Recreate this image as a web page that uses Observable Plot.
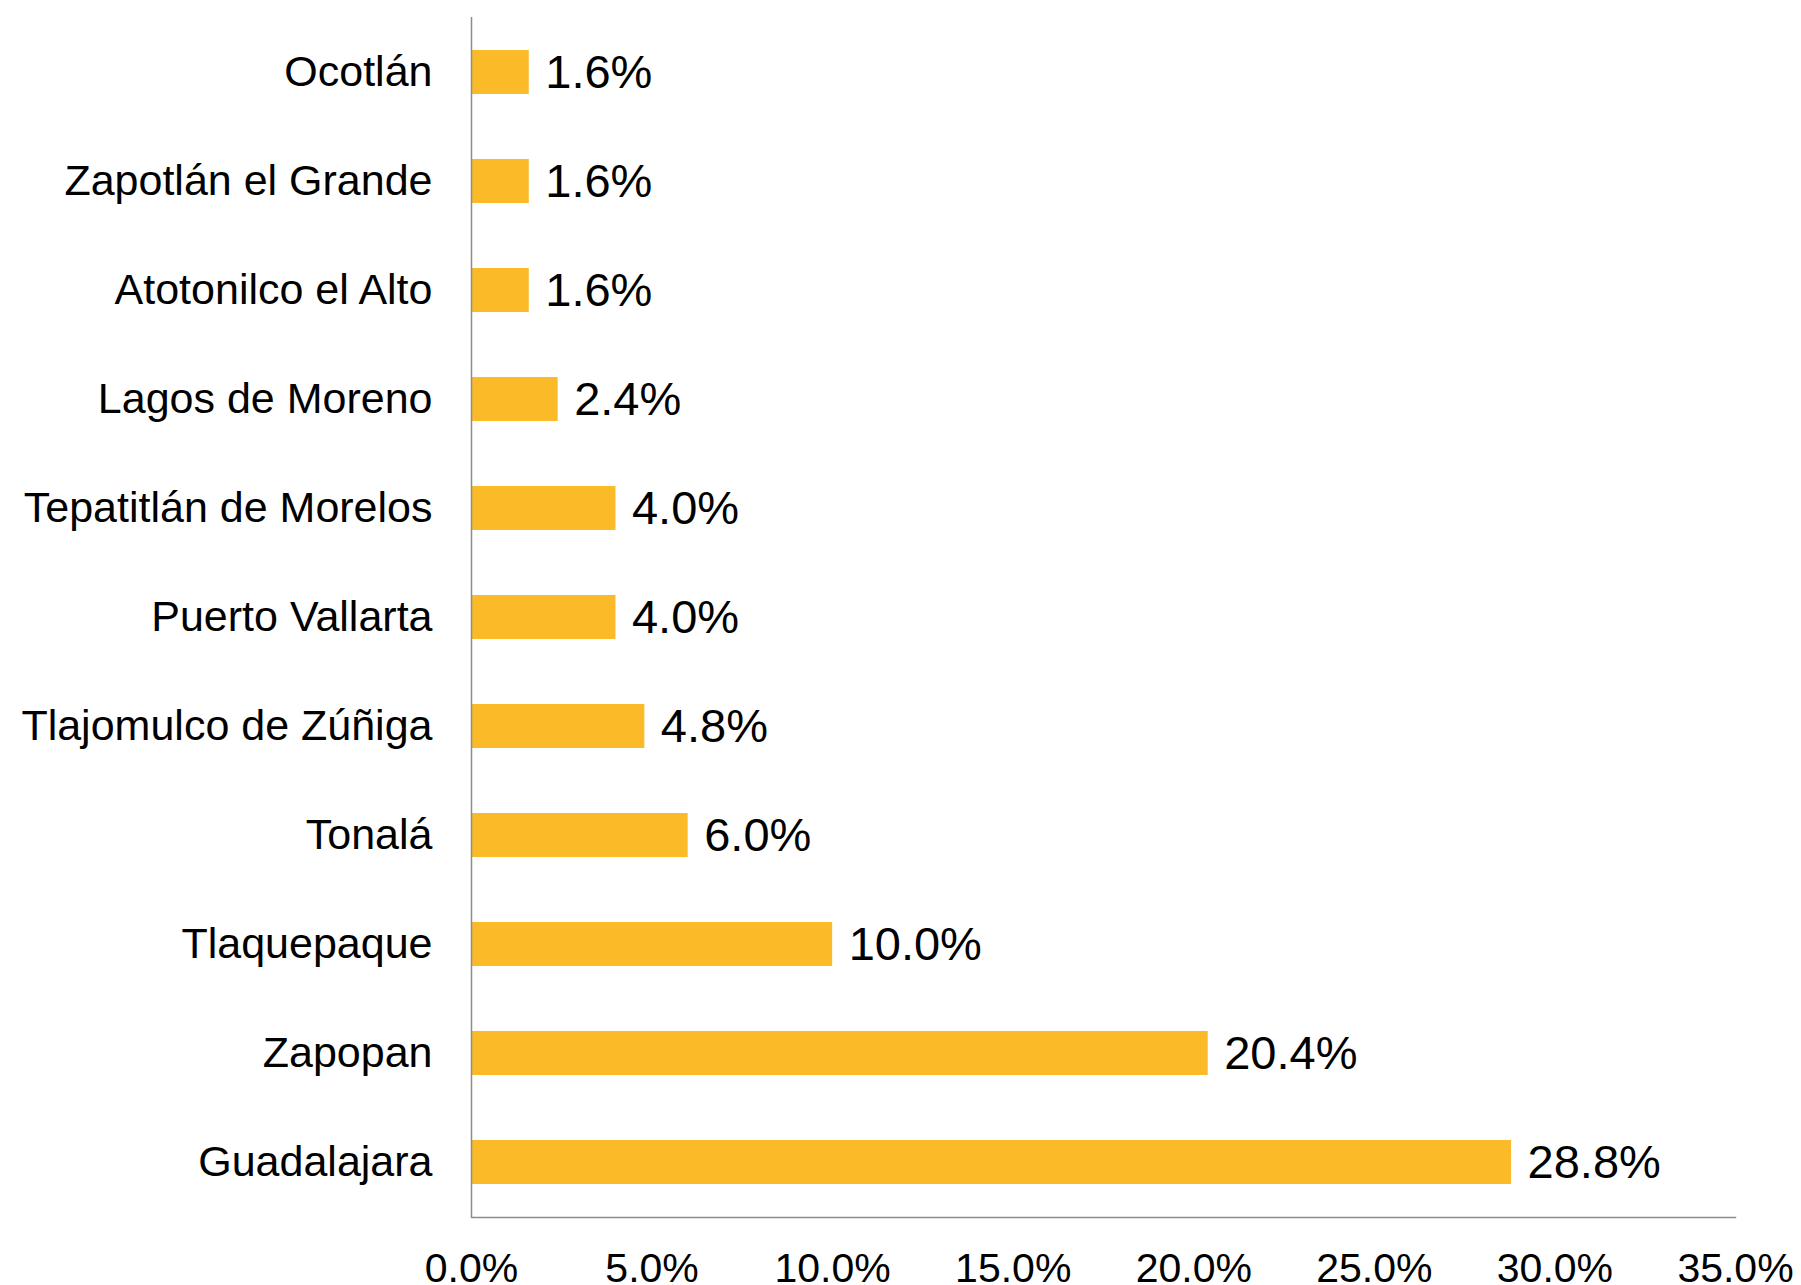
<!DOCTYPE html>
<html>
<head>
<meta charset="utf-8">
<script src="https://cdn.jsdelivr.net/npm/d3@7"></script>
<script src="https://cdn.jsdelivr.net/npm/@observablehq/plot@0.6"></script>
<style>
  html, body { margin: 0; padding: 0; background: #ffffff; }
  #chart svg { display: block; }
</style>
</head>
<body>
<div id="chart"></div>
<script>
const municipios = [
  "Ocotlán",
  "Zapotlán el Grande",
  "Atotonilco el Alto",
  "Lagos de Moreno",
  "Tepatitlán de Morelos",
  "Puerto Vallarta",
  "Tlajomulco de Zúñiga",
  "Tonalá",
  "Tlaquepaque",
  "Zapopan",
  "Guadalajara"
];
const porcentajes = [1.6, 1.6, 1.6, 2.4, 4.0, 4.0, 4.8, 6.0, 10.0, 20.4, 28.8];
const xTicks = [0, 5, 10, 15, 20, 25, 30, 35];

const data = municipios.map((m, i) => ({municipio: m, valor: porcentajes[i]}));
const fmt = v => v.toFixed(1) + "%";
const font = "'Liberation Sans', Arial, Helvetica, sans-serif";

const chart = Plot.plot({
  width: 1801,
  height: 1285,
  marginLeft: 471,
  marginRight: 66,
  marginTop: 17,
  marginBottom: 68,
  style: {fontFamily: font, color: "#000000", background: "#ffffff"},
  x: {domain: [0, 35], ticks: xTicks},
  y: {domain: municipios, paddingInner: 0.6, paddingOuter: 0.3},
  marks: [
    Plot.barX(data, {x: "valor", y: "municipio", fill: "#FBBA28"}),
    Plot.text(data, {
      x: "valor", y: "municipio", text: d => fmt(d.valor),
      textAnchor: "start", dx: 16, fontSize: 47, fill: "#000000"
    }),
    Plot.ruleX([0], {stroke: "#8c8c8c", strokeWidth: 1.5}),
    Plot.frame({anchor: "bottom", stroke: "#8c8c8c", strokeWidth: 1.5}),
    Plot.axisX({
      ticks: xTicks, tickFormat: fmt, tickSize: 0, tickPadding: 35,
      fontSize: 41, label: null, fill: "#000000"
    }),
    Plot.axisY({
      tickSize: 0, tickPadding: 39, fontSize: 43, label: null, fill: "#000000"
    })
  ]
});
document.getElementById("chart").appendChild(chart);
</script>
</body>
</html>
